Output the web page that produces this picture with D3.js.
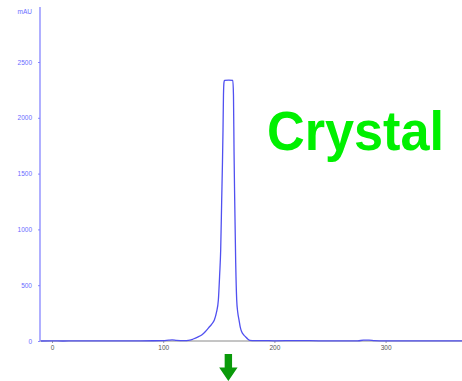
<!DOCTYPE html>
<html>
<head>
<meta charset="utf-8">
<script src="https://cdn.jsdelivr.net/npm/d3@7"></script>
<style>
  html, body { margin: 0; padding: 0; background: #fff; }
  svg { display: block; }
</style>
</head>
<body>
<svg id="chart" width="462" height="381"></svg>
<script>
// Chromatogram trace: retention (x) vs absorbance in mAU (y)
const times = [-10, 0, 10, 20, 30, 40, 60, 80, 100, 105, 108, 112, 118, 124, 127, 131, 134.6, 138, 140.6, 143.5, 146, 148, 149.6, 150.8, 151.7, 152.6, 153.3, 153.8, 154.2, 154.7, 155.2, 159, 162.6, 163.2, 163.7, 164.3, 165.2, 166.1, 167, 168.2, 169.4, 170.6, 172.4, 174.2, 176, 178, 182, 190, 200, 220, 240, 260, 275, 280, 285, 290, 300, 330, 370];
const mAU   = [0, 1, 0, 2, 1, 2, 1, 2, 3, 8, 10, 6, 3, 8, 18, 35, 54, 85, 116, 150, 188, 260, 367, 600, 815, 1263, 1600, 1900, 2200, 2320, 2335, 2338, 2335, 2200, 1700, 1263, 700, 367, 260, 188, 120, 83, 55, 36, 18, 5, 3, 3, 2, 4, 2, 1, 2, 7, 8, 4, 2, 1, 1];

const yTicks = [0, 500, 1000, 1500, 2000, 2500];
const xTicks = [0, 100, 200, 300];
const yUnit = "mAU";
const title = "Crystal";

const svg = d3.select("#chart");

const x = d3.scaleLinear().domain([0, 300]).range([52, 385.6]);
const y = d3.scaleLinear().domain([0, 2500]).range([341, 62]);

const x0 = 40, yBase = 341, yTop = 7, xRight = 462;
const tickFont = "Liberation Sans, Arial, sans-serif";

// clip region for the trace
svg.append("defs").append("clipPath").attr("id", "plot")
  .append("rect").attr("x", x0).attr("y", yTop).attr("width", xRight - x0).attr("height", yBase - yTop + 1);

// x axis
const xAxis = svg.append("g").attr("transform", `translate(0,${yBase})`)
  .call(d3.axisBottom(x).tickValues(xTicks).tickFormat(d3.format("d"))
    .tickSize(2).tickSizeOuter(0).tickPadding(2));
xAxis.select(".domain").remove();
xAxis.append("line").attr("x1", x0).attr("x2", xRight).attr("y1", 0).attr("y2", 0)
  .attr("stroke", "#8a8a8a").attr("stroke-width", 1);
xAxis.selectAll(".tick line").attr("stroke", "#9a9a9a");
xAxis.selectAll(".tick text").attr("fill", "#555").attr("font-size", 6.5)
  .attr("font-family", tickFont);

// y axis
const yAxis = svg.append("g").attr("transform", `translate(${x0},0)`)
  .call(d3.axisLeft(y).tickValues(yTicks).tickFormat(d3.format("d"))
    .tickSize(2).tickSizeOuter(0).tickPadding(6));
yAxis.select(".domain").remove();
yAxis.append("line").attr("x1", 0).attr("x2", 0).attr("y1", yTop).attr("y2", yBase)
  .attr("stroke", "#7b7bff").attr("stroke-width", 1.2);
yAxis.selectAll(".tick line").attr("stroke", "#8a8aff");
yAxis.selectAll(".tick text").attr("fill", "#6a6aff").attr("font-size", 6.5)
  .attr("font-family", tickFont);
yAxis.append("text").attr("x", -8).attr("y", 12).attr("dy", "0.32em")
  .attr("text-anchor", "end").attr("fill", "#6a6aff").attr("font-size", 6.5)
  .attr("font-family", tickFont).text(yUnit);

// trace
const line = d3.line().x((d, i) => x(times[i])).y(d => y(d)).curve(d3.curveMonotoneX);
svg.append("path").datum(mAU)
  .attr("clip-path", "url(#plot)")
  .attr("d", line)
  .attr("fill", "none")
  .attr("stroke", "#5050f0")
  .attr("stroke-width", 1.3)
  .attr("stroke-linejoin", "round");

// label
svg.append("text").attr("x", 267).attr("y", 150)
  .attr("font-family", "Liberation Sans, Arial, sans-serif")
  .attr("font-weight", "bold").attr("font-size", 56)
  .attr("textLength", 177).attr("lengthAdjust", "spacingAndGlyphs")
  .attr("fill", "#00f000").text(title);

// downward arrow under the peak
const ax = x(158.6);
const arrow = d3.path();
arrow.moveTo(ax - 3.7, 354);
arrow.lineTo(ax + 3.7, 354);
arrow.lineTo(ax + 3.7, 367.5);
arrow.lineTo(ax + 9.2, 367.5);
arrow.lineTo(ax, 381);
arrow.lineTo(ax - 9.2, 367.5);
arrow.lineTo(ax - 3.7, 367.5);
arrow.closePath();
svg.append("path").attr("d", arrow.toString()).attr("fill", "#0a9a0a");
</script>
</body>
</html>
